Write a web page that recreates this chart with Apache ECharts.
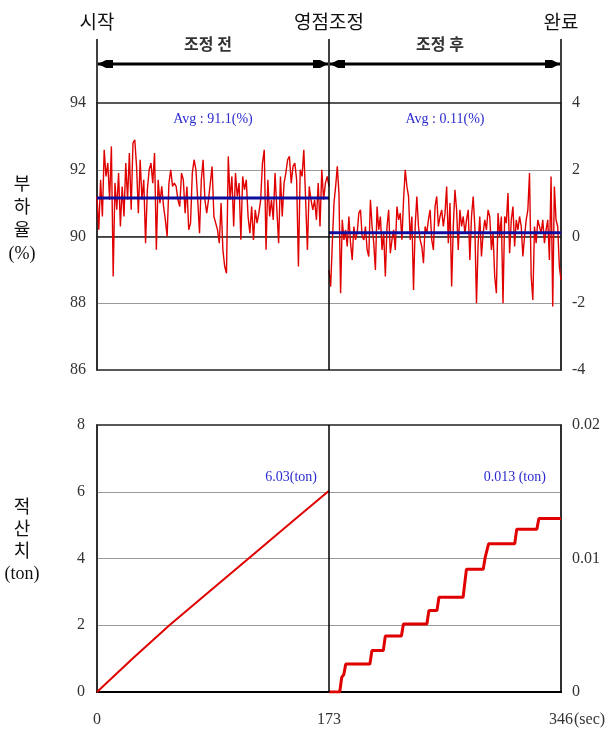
<!DOCTYPE html>
<html>
<head>
<meta charset="utf-8">
<script src="https://cdn.jsdelivr.net/npm/echarts@6/dist/echarts.min.js"></script>
<style>
html, body { margin: 0; padding: 0; background: #fff; }
#chart { width: 605px; height: 735px; }
</style>
</head>
<body>
<div id="chart"></div>
<script>
// 구간 경계 (sec)
const xTicks = [0, 173, 346];
const phaseNames = ['시작', '영점조정', '완료'];
const spanNames = ['조정 전', '조정 후'];

// 부하율 (%) - 조정 전, 왼쪽 축
const loadBefore = [
  91.2, 90.2, 91.7, 90.6, 92.6, 91.8, 92.2, 91.1, 92.7, 88.8,
  91.6, 90.8, 91.9, 90.3, 91.5, 90.6, 92.2, 91.1, 92.5, 90.8,
  92.8, 92.9, 92.1, 90.7, 92.3, 91.1, 91.7, 89.8, 91.4, 92.0,
  92.2, 91.6, 92.5, 89.6, 91.7, 91.0, 91.5, 90.9, 90.5, 90.0,
  91.6, 92.0, 91.5, 91.6, 91.5, 91.1, 90.9, 91.9, 91.7, 90.7,
  91.5, 90.2, 90.4, 91.9, 92.3, 92.0, 91.1, 90.1, 91.7, 92.3,
  91.1, 90.7,
  91.1, 91.6, 92.1, 90.6, 90.4, 90.2, 89.8, 91.0, 89.6, 89.1,
  88.9, 92.4, 91.1, 91.8, 90.3, 91.9, 91.2, 91.6, 89.9, 91.8,
  91.4, 91.7, 90.6, 90.1, 90.9, 89.9, 90.8, 90.4, 90.7, 91.1,
  92.2, 92.6, 89.6, 91.7, 90.6, 91.1, 90.5, 91.9, 90.8, 89.8,
  91.8, 90.6, 91.6, 91.9, 92.3, 92.4, 91.6, 92.1, 92.2, 91.7,
  89.1, 92.0, 91.8, 92.6, 91.1, 89.6, 91.5, 91.1, 90.8, 91.1,
  90.5, 91.6, 90.3, 92.0, 91.1, 91.6, 91.8, 91.5
];

// 부하율 편차 (%) - 조정 후, 오른쪽 축
const loadAfter = [
  -1.0, -1.5, -0.2, 1.0, 1.5, 2.1, 1.3, -1.7, 0.5, -0.1,
  0.2, -0.3, 0.6, -0.2, -0.7, 0.3, -0.1, 0.1, 0.7, 0.8,
  0.0, -0.1, 0.3, -0.4, -0.6, 1.1, 0.3, -0.2, -1.0, 0.9,
  0.2, 0.6, -0.4, 0.1, -1.2, 0.3, 0.8, -0.5, -0.1, 0.2,
  -0.4, 0.9, 0.5, 0.7, -0.1, 1.1, 2.0, 1.5, 1.2, -0.1,
  0.6, -1.6, 0.3, 1.2, 0.3, -0.1, -0.3, -0.8, 0.3, 0.1,
  0.5, 0.8, -0.1, -0.4, 0.9, 1.2, 0.3, 0.6, 0.8, 0.3,
  0.7, 1.5, -0.2, 1.0, -1.5, 0.3, 1.4, 0.8, -0.4, 0.8,
  0.3, 0.6, 0.1, 0.5, 0.8, -0.7, 0.6, 1.2, 0.3, -2.0,
  -0.2, 0.6, -0.6, 0.1, 0.5, 0.2, 0.8, 0.6, -0.4, 0.1,
  -1.2, -1.7, 0.7, 0.0, 0.6, -2.0, 0.6, 0.4, 1.3, -0.5,
  0.5, 0.9, -0.3, 0.5, 0.2, 0.6, 0.3, -0.6, 0.0, 0.5,
  0.8, 1.9, -1.2, -1.9, 0.3, -0.2, 0.5, 0.3, 0.1, 0.5,
  -0.2, 0.2, 0.5, -0.7, 1.8, -2.1, 1.5, 0.5, 0.3, -0.9, -1.3
];

const avgBefore = 91.15;
const avgAfter = 0.11;
const avgBeforeText = 'Avg : 91.1(%)';
const avgAfterText = 'Avg : 0.11(%)';

// 적산치 (ton)
const cumBeforeTime = [0, 27, 54, 84, 113, 143, 173];
const cumBeforeVal = [0, 1.02, 2.0, 3.02, 4.0, 5.02, 6.03];
const cumAfterTime = [173, 181, 182.5, 184, 185.5, 203.5, 205, 213.5, 215, 227, 228.5, 246,
  247.5, 253.5, 255, 273, 275.5, 288, 289.5, 290.5, 292, 311.5, 313, 328, 329.5, 346];
const cumAfterVal = [0, 0, 0.0011, 0.0013, 0.0021, 0.0021, 0.0031, 0.0031, 0.0042, 0.0042, 0.0051, 0.0051,
  0.0061, 0.0061, 0.0071, 0.0071, 0.0092, 0.0092, 0.0101, 0.0101, 0.0111, 0.0111, 0.0122, 0.0122, 0.013, 0.013];
const cumBeforeText = '6.03(ton)';
const cumAfterText = '0.013 (ton)';

const FONT = '"Liberation Serif", "Noto Sans CJK KR", serif';
const RED = '#e00000';
const BLUE = '#0c0c9e';

// 샘플 시각 (균등 간격)
function spread(vals, t0, t1) {
  return vals.map((v, i) => [t0 + (t1 - t0) * i / (vals.length - 1), v]);
}

const chart = echarts.init(document.getElementById('chart'));

const axisLabelStyle = { fontFamily: FONT, fontSize: 16, color: '#333' };
const gridLine = { show: true, showMinLine: false, showMaxLine: false, lineStyle: { color: '#9a9a9a', width: 1 } };
const divider = {
  symbol: 'none', silent: true, label: { show: false },
  lineStyle: { color: '#000', width: 1.5, type: 'solid' },
  data: [{ xAxis: xTicks[1] }]
};

const option = {
  animation: false,
  backgroundColor: '#fff',
  grid: [
    { left: 97, top: 103, width: 464, height: 267, show: true, borderColor: '#222', borderWidth: 1.5 },
    { left: 97, top: 425, width: 464, height: 267, show: true, borderColor: '#222', borderWidth: 1.5 }
  ],
  xAxis: [
    {
      gridIndex: 0, type: 'value', min: 0, max: 346, interval: 173,
      axisLabel: { show: false }, axisTick: { show: false }, splitLine: { show: false },
      axisLine: { lineStyle: { color: '#222', width: 1.5 } }
    },
    {
      gridIndex: 1, type: 'value', min: 0, max: 346, interval: 173,
      axisLabel: Object.assign({ margin: 20 }, axisLabelStyle),
      axisTick: { show: false }, splitLine: { show: false },
      axisLine: { lineStyle: { color: '#000', width: 2 } }
    }
  ],
  yAxis: [
    {
      gridIndex: 0, type: 'value', min: 86, max: 94, interval: 2,
      axisLabel: Object.assign({ margin: 11 }, axisLabelStyle),
      axisTick: { show: false }, splitLine: gridLine,
      axisLine: { show: true, lineStyle: { color: '#222', width: 1.5 } }
    },
    {
      gridIndex: 0, type: 'value', position: 'right', min: -4, max: 4, interval: 2,
      axisLabel: Object.assign({ margin: 11, formatter: v => v < 0 ? '-' + Math.abs(v) : String(v) }, axisLabelStyle),
      axisTick: { show: false }, splitLine: { show: false },
      axisLine: { show: true, lineStyle: { color: '#222', width: 1.5 } }
    },
    {
      gridIndex: 1, type: 'value', min: 0, max: 8, interval: 2,
      axisLabel: Object.assign({ margin: 12 }, axisLabelStyle),
      axisTick: { show: false }, splitLine: gridLine,
      axisLine: { show: true, lineStyle: { color: '#222', width: 1.5 } }
    },
    {
      gridIndex: 1, type: 'value', position: 'right', min: 0, max: 0.02, interval: 0.01,
      axisLabel: Object.assign({ margin: 11 }, axisLabelStyle),
      axisTick: { show: false }, splitLine: { show: false },
      axisLine: { show: true, lineStyle: { color: '#222', width: 1.5 } }
    }
  ],
  series: [
    {
      name: 'loadBefore', type: 'line', xAxisIndex: 0, yAxisIndex: 0,
      data: spread(loadBefore, 0, xTicks[1]), showSymbol: false,
      lineStyle: { color: RED, width: 1.4 }, markLine: divider
    },
    {
      name: 'loadAfter', type: 'line', xAxisIndex: 0, yAxisIndex: 1,
      data: spread(loadAfter, xTicks[1], xTicks[2]), showSymbol: false,
      lineStyle: { color: RED, width: 1.4 }
    },
    {
      name: 'avgBefore', type: 'line', xAxisIndex: 0, yAxisIndex: 0,
      data: [[xTicks[0], avgBefore], [xTicks[1], avgBefore]], showSymbol: false,
      lineStyle: { color: BLUE, width: 3 }
    },
    {
      name: 'avgAfter', type: 'line', xAxisIndex: 0, yAxisIndex: 1,
      data: [[xTicks[1], avgAfter], [xTicks[2], avgAfter]], showSymbol: false,
      lineStyle: { color: BLUE, width: 3 }
    },
    {
      name: 'cumBefore', type: 'line', xAxisIndex: 1, yAxisIndex: 2,
      data: cumBeforeTime.map((t, i) => [t, cumBeforeVal[i]]), showSymbol: false,
      lineStyle: { color: RED, width: 2 }, markLine: divider
    },
    {
      name: 'cumAfter', type: 'line', xAxisIndex: 1, yAxisIndex: 3,
      data: cumAfterTime.map((t, i) => [t, cumAfterVal[i]]), showSymbol: false,
      lineStyle: { color: RED, width: 3 }
    }
  ]
};

chart.setOption(option);

// 상단 구간 표시와 주석
const px = t => chart.convertToPixel({ xAxisIndex: 0 }, t);
const xs = xTicks.map(px);
const topY = chart.convertToPixel({ yAxisIndex: 0 }, 94);
const arrowY = 64;
const g = [];
xs.forEach((x, i) => {
  g.push({ type: 'line', shape: { x1: x, y1: 39, x2: x, y2: topY }, style: { stroke: '#000', lineWidth: 1.5 } });
  g.push({ type: 'text', x: x, y: 24, style: { text: phaseNames[i], font: '19px ' + FONT, fill: '#111', align: 'center', verticalAlign: 'middle' } });
});
for (let i = 0; i < 2; i++) {
  const a = xs[i] + 1, b = xs[i + 1] - 1;
  g.push({ type: 'line', shape: { x1: a, y1: arrowY, x2: b, y2: arrowY }, style: { stroke: '#000', lineWidth: 3 } });
  g.push({ type: 'polygon', shape: { points: [[a, arrowY], [a + 8, arrowY - 4], [a + 8, arrowY + 4]] }, style: { fill: '#000' } });
  g.push({ type: 'rect', shape: { x: a + 8, y: arrowY - 4, width: 7, height: 8 }, style: { fill: '#000' } });
  g.push({ type: 'polygon', shape: { points: [[b, arrowY], [b - 8, arrowY - 4], [b - 8, arrowY + 4]] }, style: { fill: '#000' } });
  g.push({ type: 'rect', shape: { x: b - 15, y: arrowY - 4, width: 7, height: 8 }, style: { fill: '#000' } });
  g.push({ type: 'text', x: (xs[i] + xs[i + 1]) / 2 - 5, y: 46, style: { text: spanNames[i], font: 'bold 16px ' + FONT, fill: '#333', align: 'center', verticalAlign: 'middle' } });
}

// 평균 / 적산 라벨
const pt = (gi, yi, t, v) => chart.convertToPixel({ xAxisIndex: gi, yAxisIndex: yi }, [t, v]);
const p1 = pt(0, 0, 86.5, 93.5);
const p2 = pt(0, 0, 259.5, 93.5);
const p3 = pt(1, 2, 173, 6.42);
const p4 = pt(1, 3, 311.5, 0.0161);
[[p1, avgBeforeText, 'center'], [p2, avgAfterText, 'center'], [[p3[0] - 12, p3[1]], cumBeforeText, 'right'], [p4, cumAfterText, 'center']]
  .forEach(([p, text, align]) => {
    g.push({ type: 'text', x: p[0], y: p[1], style: { text: text, font: '14px ' + FONT, fill: '#2a2acf', align: align, verticalAlign: 'middle' } });
  });

// 축 제목
g.push({ type: 'text', x: 22, y: 220, style: { text: '부\n하\n율\n(%)', font: '18px ' + FONT, lineHeight: 23, fill: '#111', align: 'center', verticalAlign: 'middle' } });
g.push({ type: 'text', x: 22, y: 541, style: { text: '적\n산\n치\n(ton)', font: '18px ' + FONT, lineHeight: 22, fill: '#111', align: 'center', verticalAlign: 'middle' } });

// x축 단위
const secY = chart.convertToPixel({ yAxisIndex: 2 }, 0) + 28;
g.push({ type: 'text', x: xs[2] + 13, y: secY, style: { text: '(sec)', font: '16px ' + FONT, fill: '#333', align: 'left', verticalAlign: 'middle' } });

chart.setOption({ graphic: g });
</script>
</body>
</html>
